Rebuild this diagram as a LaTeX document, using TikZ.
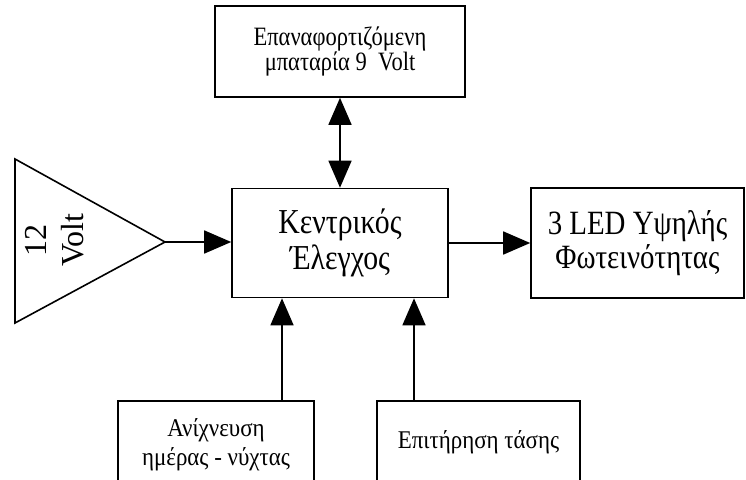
\documentclass[tikz,border=0pt]{standalone}
\usepackage{fontspec}
\setmainfont{Liberation Serif}
\newfontfamily\condfont[FakeStretch=0.85]{Liberation Serif}
\newfontfamily\bcondfont[FakeStretch=0.9]{Liberation Serif}
\usetikzlibrary{arrows.meta}
\begin{document}
\begin{tikzpicture}[x=1pt,y=-1pt,
  blk/.style={draw,line width=1.6pt,rectangle,inner sep=0pt,align=center},
  conn/.style={line width=1.6pt,-{Triangle[length=27pt,width=23pt]}},
  bconn/.style={line width=1.6pt,{Triangle[length=27pt,width=23pt]}-{Triangle[length=27pt,width=23pt]}}]
\clip (0,0) rectangle (746,479);
\fill[white] (0,0) rectangle (746,479);
\node[blk,minimum width=250pt,minimum height=91pt,font=\condfont\fontsize{26.5}{25}\selectfont] (bat) at (340,51.5) {Επαναφορτιζόμενη\\μπαταρία 9~\ Volt};
\node[blk,minimum width=216pt,minimum height=109pt,font=\condfont\fontsize{35}{36}\selectfont] (ctl) at (340,243) {Κεντρικός\\Έλεγχος};
\node[blk,minimum width=213pt,minimum height=110pt,font=\condfont\fontsize{34}{34}\selectfont] (led) at (637.5,243) {3 LED Υψηλής\\Φωτεινότητας};
\node[blk,minimum width=196pt,minimum height=88pt,font=\bcondfont\fontsize{25.5}{29}\selectfont] (day) at (216,445) {Ανίχνευση\\ημέρας - νύχτας};
\node[blk,minimum width=203pt,minimum height=82pt,font=\bcondfont\fontsize{25.5}{29}\selectfont] (mon) at (478.5,442) {Επιτήρηση τάσης};
\draw[line width=1.6pt,line join=miter] (15,159) coordinate (t1) -- (165,242) coordinate (src) -- (15,323) coordinate (t2) -- cycle;
\node[rotate=90,align=center,font=\fontsize{32}{37}\selectfont] (vlt) at (55,240) {12\\Volt};
\draw[conn] (src) -- (src -| ctl.west);
\draw[conn] (ctl.east) -- (led.west |- ctl.east);
\draw[bconn] (bat.south) -- (ctl.north);
\draw[conn] (day.north -| 282,0) coordinate (d1) -- (ctl.south -| d1);
\draw[conn] (mon.north -| 414,0) coordinate (m1) -- (ctl.south -| m1);
\end{tikzpicture}
\end{document}
